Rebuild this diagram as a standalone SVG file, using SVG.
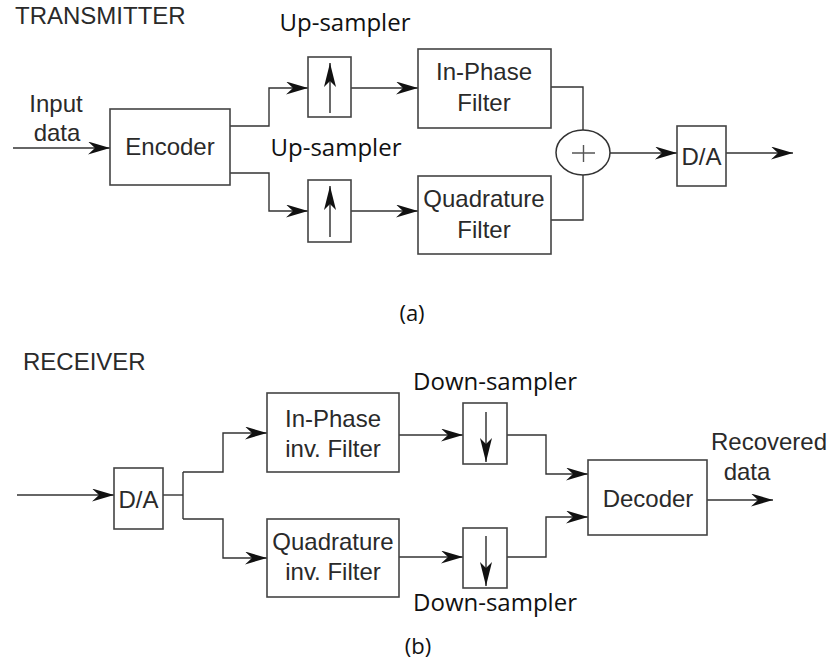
<svg xmlns="http://www.w3.org/2000/svg" width="832" height="663" viewBox="0 0 832 663">
  <style>
    .box { fill: #ffffff; stroke: #444444; stroke-width: 1.6; }
    .wire { fill: none; stroke: #333333; stroke-width: 1.4; }
    .inner { fill: none; stroke: #444444; stroke-width: 1.6; }
    .t { font-family: "Liberation Sans", Arial, sans-serif; font-size: 24px; fill: #2a2a2a; text-anchor: middle; }
    .title { font-family: "Liberation Sans", Arial, sans-serif; font-size: 24px; fill: #2a2a2a; }
    .lbl { font-family: "Open Sans", "Noto Sans", sans-serif; font-size: 24px; fill: #111111; text-anchor: middle; }
    .cap { font-family: "Open Sans", "Noto Sans", sans-serif; font-size: 22px; fill: #111111; text-anchor: middle; }
  </style>
  <defs>
    <marker id="arr" markerUnits="userSpaceOnUse" viewBox="0 0 22 13" markerWidth="22" markerHeight="13" refX="22" refY="6.5" orient="auto">
      <path d="M0,0 L22,6.5 L0,13 L7,6.5 Z" fill="#111111"/>
    </marker>
    <marker id="arrs" markerUnits="userSpaceOnUse" viewBox="0 0 24 12" markerWidth="24" markerHeight="12" refX="24" refY="6" orient="auto">
      <path d="M0,0 L24,6 L0,12 L6,6 Z" fill="#111111"/>
    </marker>
  </defs>
  <rect width="832" height="663" fill="#ffffff"/>

  <text class="title" x="15" y="24">TRANSMITTER</text>
  <text class="title" x="23" y="370">RECEIVER</text>
  <text class="cap" x="412" y="321">(a)</text>
  <text class="cap" x="418" y="654">(b)</text>

  <g id="connectors">
    <path class="wire" d="M13,148 H110" marker-end="url(#arr)"/>
    <path class="wire" d="M230,126 H269 V88 H308" marker-end="url(#arr)"/>
    <path class="wire" d="M230,173 H269 V211 H308" marker-end="url(#arr)"/>
    <path class="wire" d="M351,88 H418" marker-end="url(#arr)"/>
    <path class="wire" d="M351,211 H418" marker-end="url(#arr)"/>
    <path class="wire" d="M551,87 H583 V130"/>
    <path class="wire" d="M551,220 H583 V175"/>
    <path class="wire" d="M610,153 H677" marker-end="url(#arr)"/>
    <path class="wire" d="M726,153 H793" marker-end="url(#arr)"/>

    <path class="wire" d="M17,495 H114" marker-end="url(#arr)"/>
    <path class="wire" d="M163,495 H183"/>
    <path class="wire" d="M183,472 V519"/>
    <path class="wire" d="M183,472 H223 V433 H267" marker-end="url(#arr)"/>
    <path class="wire" d="M183,519 H223 V558 H267" marker-end="url(#arr)"/>
    <path class="wire" d="M399,435 H463" marker-end="url(#arr)"/>
    <path class="wire" d="M399,557 H463" marker-end="url(#arr)"/>
    <path class="wire" d="M507,435 H546 V474 H588" marker-end="url(#arr)"/>
    <path class="wire" d="M507,557 H546 V517 H588" marker-end="url(#arr)"/>
    <path class="wire" d="M707,500 H773" marker-end="url(#arr)"/>
  </g>

  <text class="t" x="56" y="112">Input</text>
  <text class="t" x="57" y="141">data</text>

  <g id="encoder">
    <rect class="box" x="110" y="109" width="120" height="76"/>
    <text class="t" x="170" y="155">Encoder</text>
  </g>

  <g id="upsampler1">
    <rect class="box" x="308" y="57" width="43" height="60"/>
    <path class="inner" d="M330,113 V63" marker-end="url(#arrs)"/>
    <text class="lbl" x="345" y="31">Up-sampler</text>
  </g>

  <g id="upsampler2">
    <rect class="box" x="308" y="180" width="43" height="62"/>
    <path class="inner" d="M330,237 V186" marker-end="url(#arrs)"/>
    <text class="lbl" x="336" y="156">Up-sampler</text>
  </g>

  <g id="inphase-filter">
    <rect class="box" x="418" y="49" width="133" height="79"/>
    <text class="t" x="484" y="80">In-Phase</text>
    <text class="t" x="484" y="111">Filter</text>
  </g>

  <g id="quadrature-filter">
    <rect class="box" x="418" y="176" width="133" height="78"/>
    <text class="t" x="484" y="207">Quadrature</text>
    <text class="t" x="484" y="238">Filter</text>
  </g>

  <g id="summer">
    <ellipse cx="583" cy="152.5" rx="27" ry="22.5" fill="#ffffff" stroke="#333333" stroke-width="1.5"/>
    <path d="M572,153 H595 M583.5,145 V162" stroke="#555555" stroke-width="1.4" fill="none"/>
  </g>

  <g id="da-tx">
    <rect class="box" x="677" y="126" width="49" height="60"/>
    <text class="t" x="701.5" y="165">D/A</text>
  </g>

  <g id="da-rx">
    <rect class="box" x="114" y="468" width="49" height="61"/>
    <text class="t" x="138.5" y="508">D/A</text>
  </g>

  <g id="inphase-inv-filter">
    <rect class="box" x="267" y="393" width="132" height="79"/>
    <text class="t" x="333" y="427">In-Phase</text>
    <text class="t" x="333" y="457">inv. Filter</text>
  </g>

  <g id="quadrature-inv-filter">
    <rect class="box" x="267" y="519" width="132" height="78"/>
    <text class="t" x="333" y="550">Quadrature</text>
    <text class="t" x="333" y="580">inv. Filter</text>
  </g>

  <g id="downsampler1">
    <rect class="box" x="463" y="403" width="44" height="61"/>
    <path class="inner" d="M486,412 V462" marker-end="url(#arrs)"/>
    <text class="lbl" x="495" y="390">Down-sampler</text>
  </g>

  <g id="downsampler2">
    <rect class="box" x="463" y="528" width="44" height="60"/>
    <path class="inner" d="M486,536 V586" marker-end="url(#arrs)"/>
    <text class="lbl" x="495" y="611">Down-sampler</text>
  </g>

  <g id="decoder">
    <rect class="box" x="588" y="460" width="119" height="75"/>
    <text class="t" x="648" y="507">Decoder</text>
  </g>

  <text class="t" x="769" y="450">Recovered</text>
  <text class="t" x="747" y="480">data</text>
</svg>
